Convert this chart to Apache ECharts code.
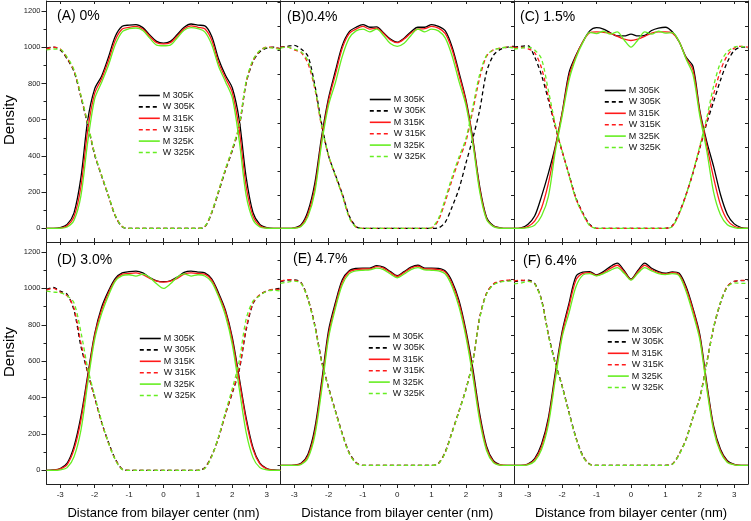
<!DOCTYPE html>
<html><head><meta charset="utf-8">
<script src="https://cdn.jsdelivr.net/npm/echarts@6/dist/echarts.min.js"></script>
<style>html,body{margin:0;padding:0;background:#fff}#c{width:751px;height:521px}</style>
</head><body><div id="c"></div>
<script>
const xs = [-3.4,-3.2,-3.0,-2.8,-2.6,-2.4,-2.2,-2.0,-1.8,-1.6,-1.4,-1.2,-1.0,-0.8,-0.6,-0.4,-0.2,0,0.2,0.4,0.6,0.8,1.0,1.2,1.4,1.6,1.8,2.0,2.2,2.4,2.6,2.8,3.0,3.2,3.4];
const seriesNames = ['M 305K','W 305K','M 315K','W 315K','M 325K','W 325K'];
const panelLabels = ['(A) 0%','(B)0.4%','(C) 1.5%','(D) 3.0%','(E) 4.7%','(F) 6.4%'];
const xMajorTicks = [-3,-2,-1,0,1,2,3];
const xMinorTicks = [-2.5,-1.5,-0.5,0.5,1.5,2.5];
const yMajorTicks = [0,200,400,600,800,1000,1200];
const yMinorTicks = [100,300,500,700,900,1100];
const topRowEdgeTicks = [49,183,316,449,582,715,848,981,1114,1247];
const bottomRowEdgeTicks = [0,100,200,300,400,500,600,700,800,900,1000,1100];

// Panel A 0%
const aM305 = [0,0,4,22,86,280,600,770,840,945,1060,1115,1122,1125,1108,1068,1032,1022,1032,1070,1110,1128,1122,1118,1060,935,845,775,600,285,88,22,4,0,0];
const aW305 = [995,1000,985,935,865,725,570,405,290,178,68,9,0,0,0,0,0,0,0,0,0,0,0,8,85,200,320,430,560,800,920,975,995,1000,992];
const aM315 = [0,0,2,15,65,230,545,745,825,925,1040,1100,1110,1115,1100,1060,1025,1018,1025,1062,1102,1118,1110,1102,1040,915,830,750,545,235,68,15,2,0,0];
const aW315 = [990,1000,990,940,870,730,575,410,292,180,70,10,0,0,0,0,0,0,0,0,0,0,0,10,88,205,325,435,565,805,925,980,1000,998,990];
const aM325 = [0,0,1,8,45,180,480,715,805,900,1015,1085,1102,1106,1092,1050,1012,1008,1012,1052,1094,1108,1102,1085,1015,895,810,720,485,185,48,8,1,0,0];
const aW325 = [985,990,988,945,875,735,580,412,295,182,72,10,0,0,0,0,0,0,0,0,0,0,0,10,90,208,328,440,570,810,930,982,998,995,985];
// Panel B 0.4%
const bM305 = [0,0,3,20,95,250,510,720,870,1010,1085,1110,1125,1110,1112,1080,1045,1028,1050,1085,1110,1110,1125,1115,1090,1000,860,710,495,232,62,15,3,0,0];
const bW305 = [1000,1005,1010,990,950,790,575,400,295,190,70,10,0,0,0,0,0,0,0,0,0,0,0,3,35,120,220,360,497,653,863,955,988,1000,1005];
const bM315 = [0,0,2,15,80,225,490,705,850,995,1075,1100,1115,1100,1105,1075,1040,1025,1045,1078,1100,1102,1115,1105,1075,985,845,700,485,220,55,12,2,0,0];
const bW315 = [1000,1000,985,970,910,770,560,400,290,185,65,8,0,0,0,0,0,0,0,0,0,0,3,45,150,270,380,480,650,830,950,985,995,1000,1000];
const bM325 = [0,0,1,10,65,200,470,680,805,950,1050,1090,1100,1085,1100,1065,1020,1005,1022,1065,1100,1085,1100,1090,1050,950,810,680,470,205,50,10,1,0,0];
const bW325 = [995,1000,990,975,925,780,565,402,290,182,60,6,0,0,0,0,0,0,0,0,0,0,5,55,165,285,395,495,670,850,955,985,995,1000,995];
// Panel C 1.5%
const cM305 = [0,3,22,68,177,305,452,640,860,955,1030,1090,1108,1100,1080,1062,1062,1072,1062,1065,1092,1105,1110,1085,1030,945,895,650,480,342,187,77,25,5,0];
const cW305 = [1000,1005,1008,946,845,708,561,424,296,168,86,22,0,0,0,0,0,0,0,0,0,0,0,15,86,187,305,443,580,699,818,918,982,1000,1000];
const cM315 = [0,1,10,40,113,250,443,635,840,950,1030,1080,1085,1082,1078,1060,1045,1037,1045,1060,1078,1085,1085,1078,1030,940,875,640,460,280,130,45,12,2,0];
const cW315 = [995,1000,992,970,885,725,565,424,294,165,82,18,0,0,0,0,0,0,0,0,0,0,0,12,82,185,305,448,590,740,870,955,995,1005,1000];
const cM325 = [0,0,4,18,68,177,424,620,818,940,1025,1082,1075,1088,1072,1085,1040,1000,1040,1085,1072,1088,1078,1080,1030,935,850,620,430,200,75,20,5,0,0];
const cW325 = [990,995,1000,985,935,760,575,428,292,162,78,15,0,0,0,0,0,0,0,0,0,0,0,10,80,185,310,455,610,785,915,975,1000,1005,995];
// Panel D 3.0%
const dM305 = [0,2,10,40,132,297,525,750,895,985,1055,1085,1092,1095,1085,1060,1042,1037,1042,1062,1088,1095,1090,1085,1052,975,880,730,510,290,125,40,10,2,0];
const dW305 = [995,1005,985,967,880,682,536,400,265,155,62,8,0,0,0,0,0,0,0,0,0,0,0,15,80,180,310,425,550,770,915,965,985,995,1000];
const dM315 = [0,1,8,32,115,275,510,740,880,975,1045,1078,1082,1085,1075,1055,1040,1035,1040,1055,1078,1085,1082,1078,1045,965,870,715,495,275,115,35,8,1,0];
const dW315 = [990,1000,980,960,890,700,540,400,265,150,60,6,0,0,0,0,0,0,0,0,0,0,0,12,78,180,310,430,560,780,920,965,985,995,995];
const dM325 = [0,0,3,15,75,220,480,720,860,960,1040,1070,1075,1068,1078,1060,1025,1000,1025,1062,1080,1068,1075,1068,1035,955,850,690,450,210,70,15,3,0,0];
const dW325 = [985,980,975,960,920,760,560,410,270,150,58,5,0,0,0,0,0,0,0,0,0,0,0,10,75,185,320,450,600,830,930,960,985,990,985];
// Panel E 4.7%
const eM305 = [0,0,1,11,60,200,453,725,875,997,1046,1058,1060,1060,1073,1065,1041,1019,1041,1065,1075,1060,1060,1058,1044,987,885,725,521,278,103,25,3,0,0];
const eW305 = [987,995,997,982,895,754,560,419,293,171,69,16,0,0,0,0,0,0,0,0,0,0,0,11,74,181,293,409,560,793,924,973,987,992,995];
const eM315 = [0,0,1,8,50,180,430,705,860,985,1040,1052,1055,1055,1068,1060,1036,1015,1036,1060,1070,1055,1055,1052,1038,975,870,710,500,260,92,20,2,0,0];
const eW315 = [990,998,995,980,892,750,556,416,290,168,66,14,0,0,0,0,0,0,0,0,0,0,0,10,72,180,292,408,560,795,925,975,990,995,998];
const eM325 = [0,0,0,5,40,160,405,685,845,970,1030,1045,1048,1050,1060,1052,1028,1008,1028,1052,1062,1050,1048,1045,1028,960,850,690,480,240,80,15,1,0,0];
const eW325 = [978,985,990,978,890,745,552,414,288,166,64,12,0,0,0,0,0,0,0,0,0,0,0,9,70,178,290,406,558,790,920,970,985,990,992];
// Panel F 6.4%
const fM305 = [0,0,7,37,114,257,497,720,872,1015,1038,1041,1023,1041,1068,1086,1047,1000,1047,1086,1059,1041,1032,1040,1032,961,845,703,444,212,87,25,6,0,0];
const fW305 = [987,992,995,978,890,703,551,426,284,150,52,7,0,0,0,0,0,0,0,0,0,0,0,7,61,141,257,364,551,738,872,961,988,992,992];
const fM315 = [0,0,5,30,100,240,480,705,855,995,1032,1035,1020,1035,1058,1075,1040,998,1040,1075,1052,1035,1028,1035,1025,950,835,690,430,200,78,20,4,0,0];
const fW315 = [990,995,992,975,888,700,548,424,282,148,50,6,0,0,0,0,0,0,0,0,0,0,0,6,60,140,256,362,548,740,875,962,988,994,994];
const fM325 = [0,0,3,22,85,220,460,690,820,960,1022,1030,1018,1030,1048,1062,1032,995,1032,1062,1045,1030,1025,1030,1018,935,815,675,415,188,70,16,3,0,0];
const fW325 = [975,980,988,975,885,698,545,422,280,146,48,5,0,0,0,0,0,0,0,0,0,0,0,5,58,138,255,360,545,742,876,958,980,978,978];

const panelData = [
  [aM305,aW305,aM315,aW315,aM325,aW325],
  [bM305,bW305,bM315,bW315,bM325,bW325],
  [cM305,cW305,cM315,cW315,cM325,cW325],
  [dM305,dW305,dM315,dW315,dM325,dW325],
  [eM305,eW305,eM315,eW315,eM325,eW325],
  [fM305,fW305,fM315,fW315,fM325,fW325]
];

const FONT = 'Arial, "Liberation Sans", sans-serif';
const colors = ['#000000','#000000','#ff1a1a','#ff1a1a','#66ee22','#66ee22'];
const dashed = [false,true,false,true,false,true];

const gridBoxes = [
  {left:46.5, top:1, width:234, height:241},
  {left:280.5, top:1, width:233.5, height:241},
  {left:514, top:1, width:234, height:241},
  {left:46.5, top:242, width:234, height:243},
  {left:280.5, top:242, width:233.5, height:243},
  {left:514, top:242, width:234, height:243}
];
const yRanges = [[-75,1255],[-75,1255],[-75,1255],[-75,1255],[-100,1200],[-100,1200]];
const legendPos = [[138,91],[369,95],[604,86],[139,334],[368,332],[607,326]];
const labelPos = [[57,16.5],[287,17],[520,17],[57,260],[293,259],[523,261]];

const AX = '#222';
const grid = [], xAxis = [], yAxis = [], series = [], legend = [], graphic = [];

for (let p = 0; p < 6; p++) {
  const bottomRow = p >= 3;
  const leftCol = p % 3 === 0;
  grid.push(Object.assign({containLabel:false}, gridBoxes[p]));
  const [ymin, ymax] = yRanges[p];
  xAxis.push({
    gridIndex:p, type:'value', position:'bottom', min:-3.4, max:3.4,
    axisLine:{show:true, onZero:false, lineStyle:{color:AX, width:1}},
    axisTick:{show:true, inside:!bottomRow, length:4, customValues:xMajorTicks, lineStyle:{color:AX}},
    axisLabel:{show:bottomRow, customValues:xMajorTicks, fontSize:8, color:'#222', fontFamily:FONT, margin:7, formatter:v=>String(v)},
    splitLine:{show:false},
    name: bottomRow ? 'Distance from bilayer center (nm)' : '',
    nameLocation:'middle', nameGap:23,
    nameTextStyle:{fontSize:13, color:'#000', fontFamily:FONT}
  });
  xAxis.push({
    gridIndex:p, type:'value', position:'bottom', min:-3.4, max:3.4,
    axisLine:{show:false, onZero:false},
    axisTick:{show:true, inside:!bottomRow, length:2.5, customValues:xMinorTicks, lineStyle:{color:AX}},
    axisLabel:{show:false}, splitLine:{show:false}
  });
  xAxis.push({
    gridIndex:p, type:'value', position:'top', min:-3.4, max:3.4,
    axisLine:{show:true, onZero:false, lineStyle:{color:AX, width:1}},
    axisTick:{show:true, inside:true, length:3, customValues:xMajorTicks, lineStyle:{color:AX}},
    axisLabel:{show:false}, splitLine:{show:false}
  });
  let leftTicks, leftLen;
  if (leftCol) { leftTicks = yMajorTicks; leftLen = 5; }
  else if (!bottomRow) { leftTicks = topRowEdgeTicks; leftLen = 3; }
  else { leftTicks = bottomRowEdgeTicks; leftLen = 3; }
  yAxis.push({
    gridIndex:p, type:'value', position:'left', min:ymin, max:ymax,
    axisLine:{show:true, onZero:false, lineStyle:{color:AX, width:1}},
    axisTick:{show:true, inside:false, length:leftLen, customValues:leftTicks, lineStyle:{color:AX}},
    axisLabel:{show:leftCol, customValues:yMajorTicks, fontSize:7.5, color:'#222', fontFamily:FONT, margin:6, formatter:v=>String(v)},
    splitLine:{show:false}
  });
  yAxis.push({
    gridIndex:p, type:'value', position:'left', min:ymin, max:ymax,
    axisLine:{show:false, onZero:false},
    axisTick:{show:leftCol, inside:false, length:3, customValues:yMinorTicks, lineStyle:{color:AX}},
    axisLabel:{show:false}, splitLine:{show:false}
  });
  const rightCol = p % 3 === 2;
  yAxis.push({
    gridIndex:p, type:'value', position:'right', min:ymin, max:ymax,
    axisLine:{show:true, onZero:false, lineStyle:{color:AX, width:1}},
    axisTick:{show:rightCol, inside:true, length:3, customValues: bottomRow ? bottomRowEdgeTicks : topRowEdgeTicks, lineStyle:{color:AX}},
    axisLabel:{show:false}, splitLine:{show:false}
  });
  for (let s = 0; s < 6; s++) {
    const arr = panelData[p][s];
    series.push({
      type:'line', name:seriesNames[s], xAxisIndex:p*3, yAxisIndex:p*3,
      data: xs.map((x,i)=>[x, arr[i]]),
      symbol:'none', showSymbol:false, smooth:0.3, animation:false,
      itemStyle:{color:colors[s]},
      lineStyle:{color:colors[s], width:1.3, type: dashed[s] ? [4,3] : 'solid'}
    });
  }
  legend.push({
    orient:'vertical', left:legendPos[p][0], top:legendPos[p][1],
    itemWidth:21, itemHeight:9, itemGap:2.4, selectedMode:false,
    data:seriesNames, padding:0,
    itemStyle:{color:'rgba(0,0,0,0)', borderColor:'rgba(0,0,0,0)', borderWidth:0, opacity:0},
    lineStyle:{width:1.6},
    textStyle:{fontSize:9, color:'#111', fontFamily:FONT, padding:[0,0,0,-2]}
  });
  graphic.push({
    type:'text', x:labelPos[p][0], y:labelPos[p][1],
    style:{text:panelLabels[p], fontSize:14, fontFamily:FONT, fill:'#000', textVerticalAlign:'middle', verticalAlign:'middle'}
  });
}
graphic.push({type:'text', x:9.5, y:120, rotation:Math.PI/2,
  style:{text:'Density', fontSize:15, fontFamily:FONT, fill:'#000', textAlign:'center', align:'center', textVerticalAlign:'middle', verticalAlign:'middle'}});
graphic.push({type:'text', x:9.5, y:352, rotation:Math.PI/2,
  style:{text:'Density', fontSize:15, fontFamily:FONT, fill:'#000', textAlign:'center', align:'center', textVerticalAlign:'middle', verticalAlign:'middle'}});

const chart = echarts.init(document.getElementById('c'), null, {renderer:'canvas'});
chart.setOption({
  backgroundColor:'#ffffff', animation:false,
  grid, xAxis, yAxis, series, legend, graphic
});
</script></body></html>
